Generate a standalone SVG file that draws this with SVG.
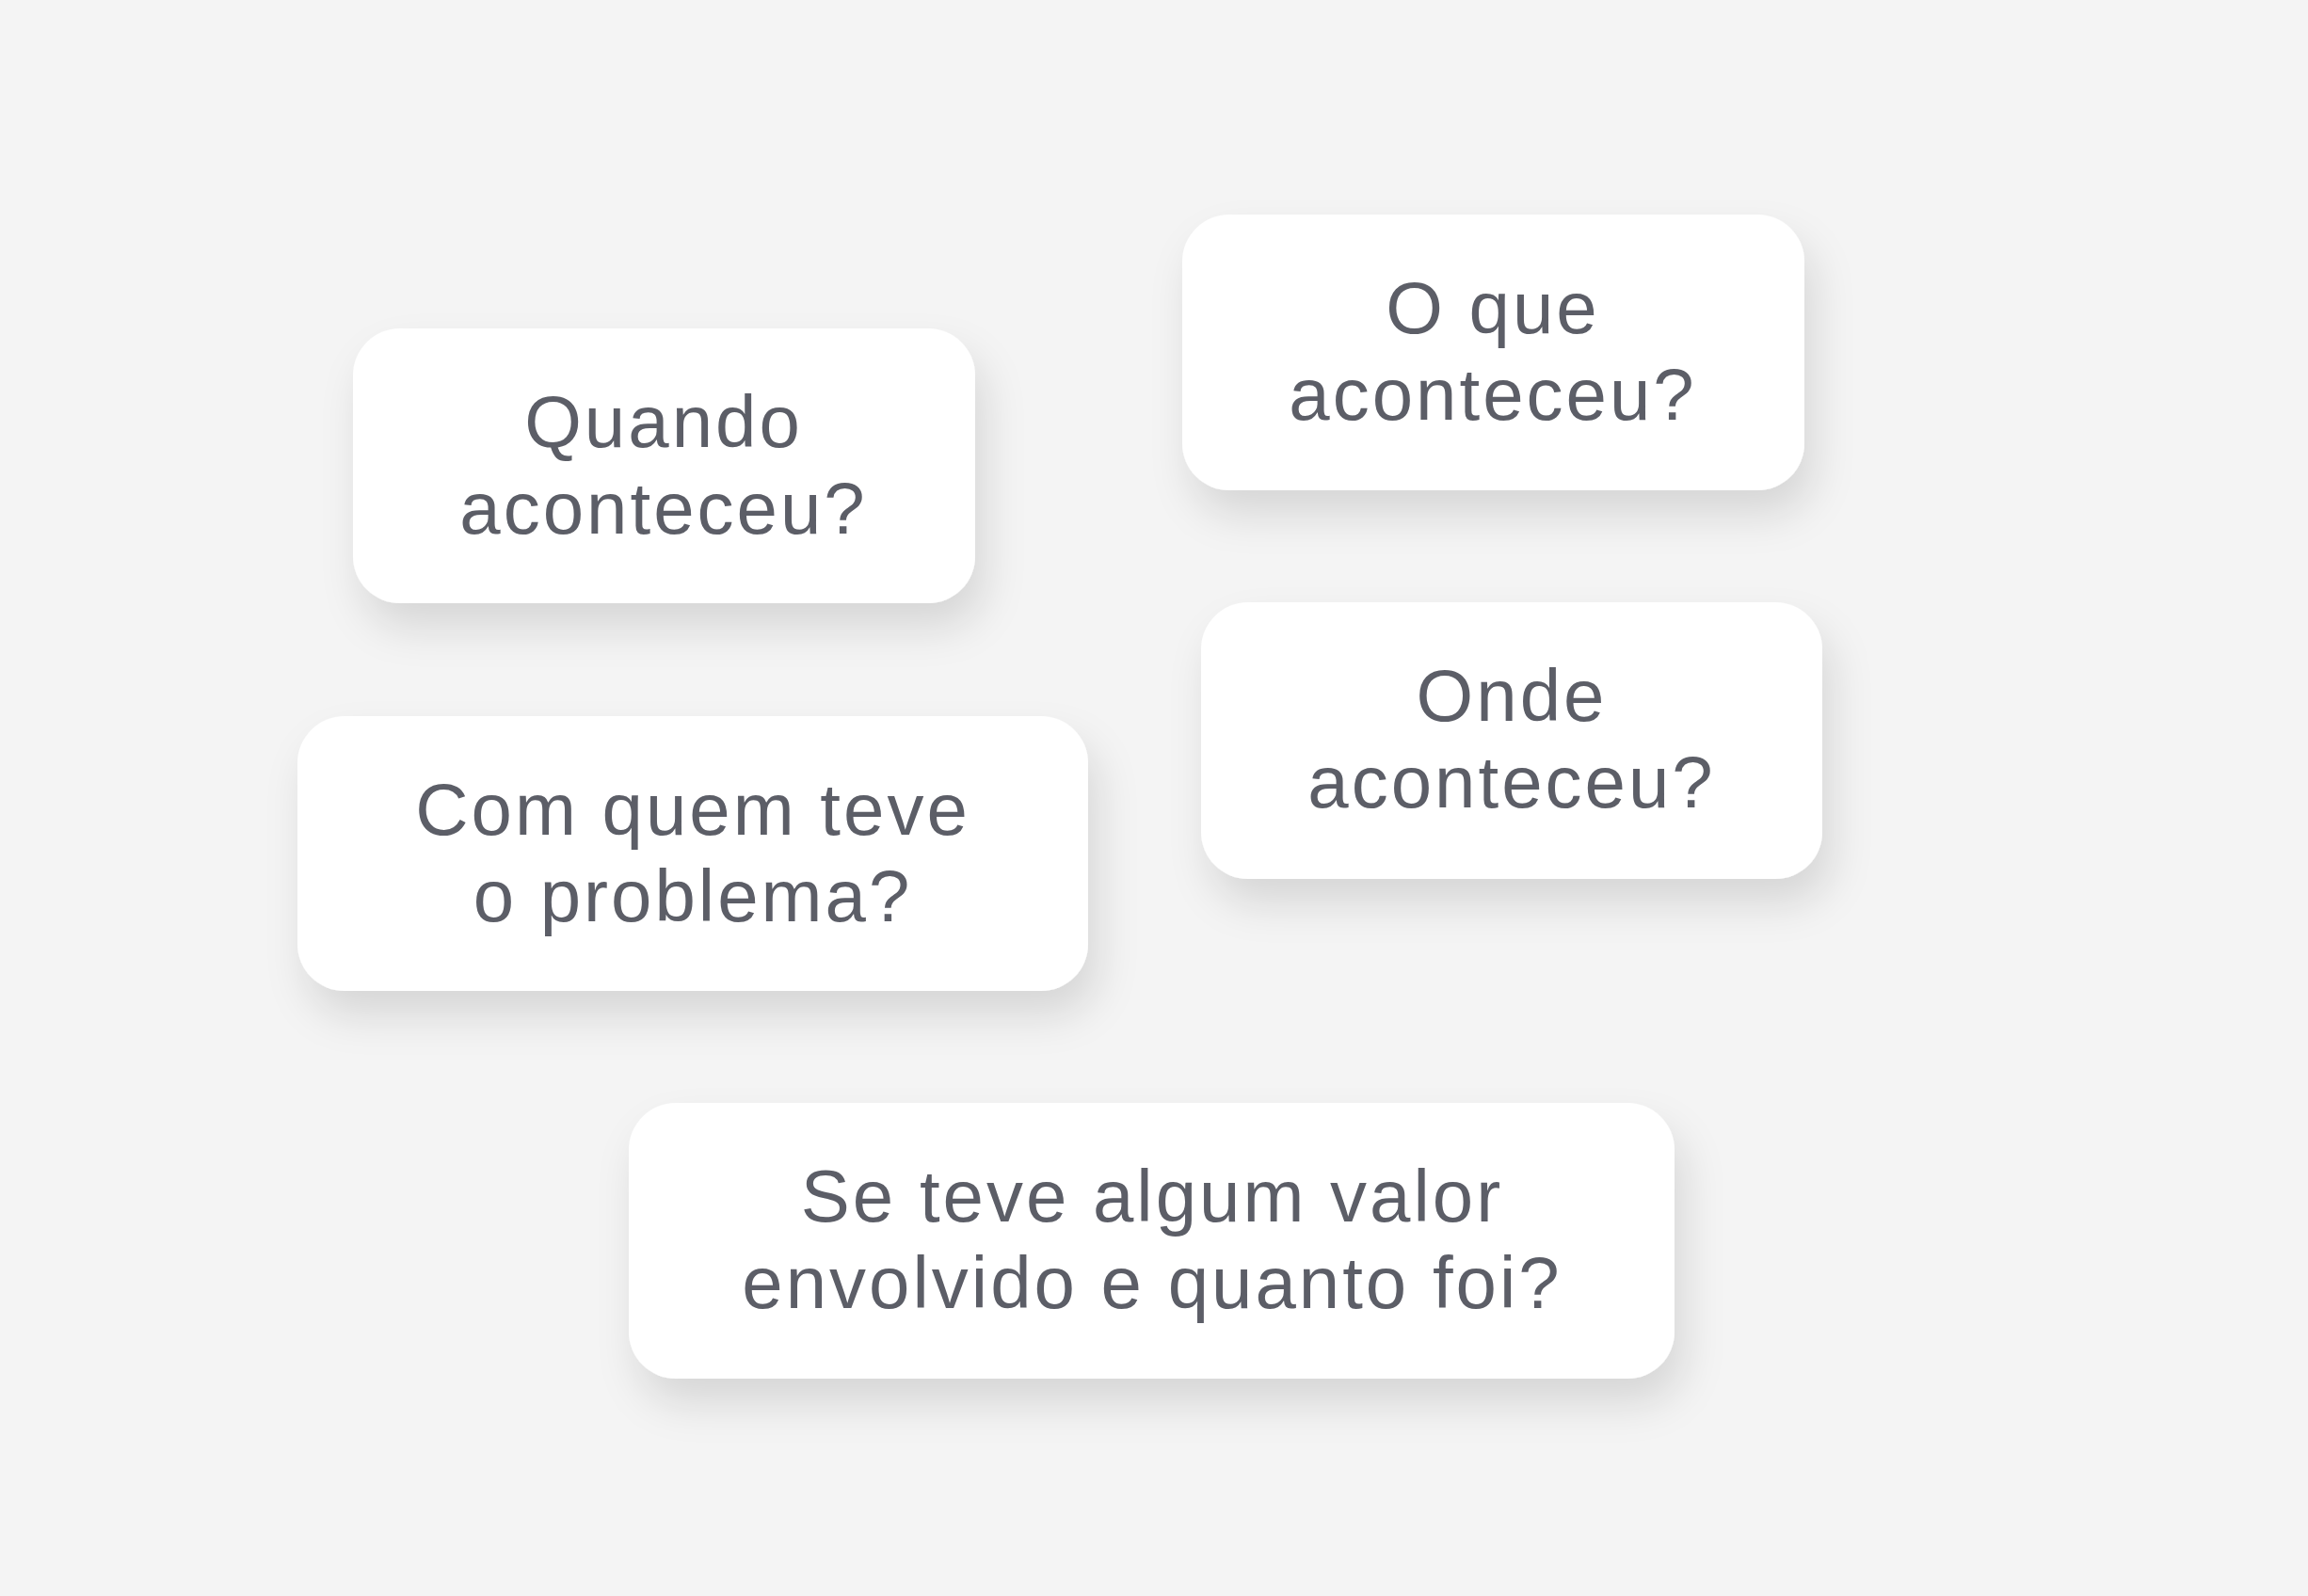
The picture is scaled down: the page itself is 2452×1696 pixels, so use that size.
<svg xmlns="http://www.w3.org/2000/svg" width="2452" height="1696" viewBox="0 0 2452 1696">
  <defs>
    <filter id="shadow" x="-20%" y="-30%" width="140%" height="180%">
      <feDropShadow dx="10" dy="26" stdDeviation="22" flood-color="#000000" flood-opacity="0.12"/>
    </filter>
  </defs>
  <style>
    .card { fill: #ffffff; filter: url(#shadow); }
    .label { font-family: "Liberation Sans", "Open Sans", sans-serif; font-size: 78px; fill: #5c5e67; text-anchor: middle; letter-spacing: 3px; }
  </style>
  <rect x="0" y="0" width="2452" height="1696" fill="#f4f4f4"/>
  <g id="connectors"></g>
  <g id="node-quando">
    <rect class="card" x="375" y="349" width="661" height="292" rx="50" ry="50"/>
    <text class="label" x="705" y="475">Quando</text>
    <text class="label" x="705" y="567">aconteceu?</text>
  </g>
  <g id="node-oque">
    <rect class="card" x="1256" y="228" width="661" height="293" rx="50" ry="50"/>
    <text class="label" x="1586" y="354">O que</text>
    <text class="label" x="1586" y="446">aconteceu?</text>
  </g>
  <g id="node-onde">
    <rect class="card" x="1276" y="640" width="660" height="294" rx="50" ry="50"/>
    <text class="label" x="1606" y="766">Onde</text>
    <text class="label" x="1606" y="858">aconteceu?</text>
  </g>
  <g id="node-comquem">
    <rect class="card" x="316" y="761" width="840" height="292" rx="50" ry="50"/>
    <text class="label" x="736" y="887">Com quem teve</text>
    <text class="label" x="736" y="979">o problema?</text>
  </g>
  <g id="node-valor">
    <rect class="card" x="668" y="1172" width="1111" height="293" rx="50" ry="50"/>
    <text class="label" x="1224" y="1298">Se teve algum valor</text>
    <text class="label" x="1224" y="1390">envolvido e quanto foi?</text>
  </g>
</svg>
